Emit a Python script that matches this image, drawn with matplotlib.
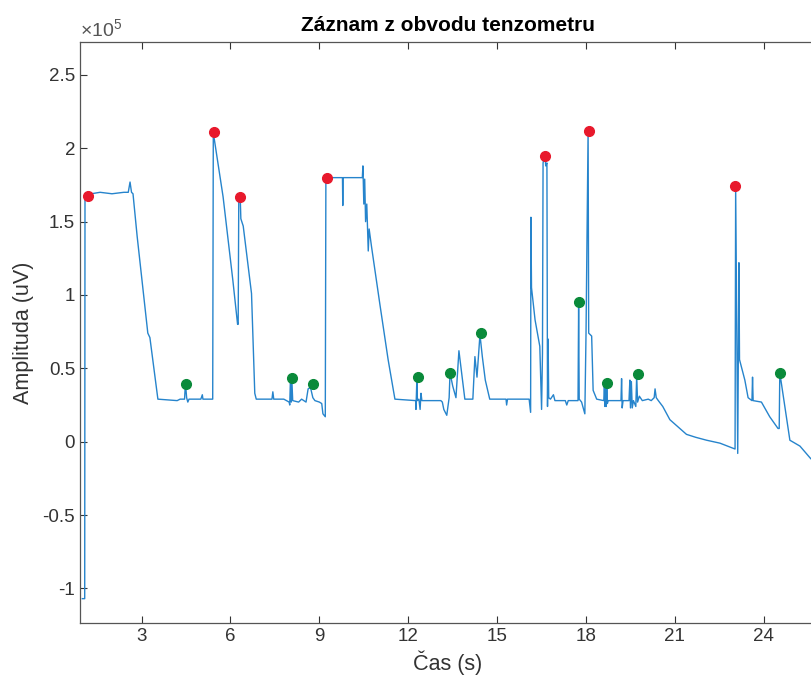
"""Záznam z obvodu tenzometru"""

import numpy as np
import matplotlib
matplotlib.use("Agg")
import matplotlib.pyplot as plt
from matplotlib.ticker import FuncFormatter

plt.rcParams['font.family'] = ['Liberation Sans', 'DejaVu Sans']
plt.rcParams['mathtext.fontset'] = 'custom'
plt.rcParams['mathtext.rm'] = 'Liberation Sans'

# signál (čas v s, amplituda v jednotkách 1e5 uV)
cas = [
    1.00, 1.08, 1.09, 1.30, 1.60, 2.00, 2.40, 2.55, 2.61, 2.66, 2.71,
    2.85, 3.21, 3.28, 3.55, 4.20, 4.30, 4.45, 4.48, 4.52, 4.56, 4.60,
    5.00, 5.05, 5.07, 5.40, 5.42, 5.44, 5.75, 6.08, 6.24, 6.26, 6.28,
    6.33, 6.35, 6.43, 6.71, 6.82, 6.87, 7.40, 7.43, 7.46, 7.80, 7.98,
    8.00, 8.02, 8.05, 8.07, 8.10, 8.30, 8.40, 8.55, 8.62, 8.70, 8.78,
    8.85, 9.00, 9.08, 9.12, 9.20, 9.22, 9.25, 9.75, 9.78, 9.79, 9.80,
    10.45, 10.47, 10.50, 10.53, 10.56, 10.60, 10.65, 10.68, 10.76, 11.04,
    11.32, 11.55, 12.25, 12.26, 12.29, 12.31, 12.36, 12.40, 12.43, 12.46,
    13.10, 13.15, 13.20, 13.30, 13.38, 13.41, 13.50, 13.61, 13.71, 13.91,
    14.18, 14.25, 14.32, 14.42, 14.50, 14.60, 14.75, 15.30, 15.32, 15.35,
    16.08, 16.13, 16.14, 16.16, 16.28, 16.44, 16.50, 16.53, 16.55, 16.58,
    16.61, 16.64, 16.68, 16.70, 16.72, 16.74, 16.80, 16.90, 16.95, 17.30,
    17.35, 17.40, 17.73, 17.75, 17.77, 17.85, 17.96, 18.00, 18.07, 18.09,
    18.19, 18.24, 18.36, 18.60, 18.62, 18.64, 18.66, 18.68, 18.70, 18.72,
    18.75, 19.18, 19.20, 19.22, 19.25, 19.45, 19.48, 19.50, 19.53, 19.56,
    19.60, 19.68, 19.71, 19.74, 19.80, 19.90, 20.10, 20.20, 20.30, 20.33,
    20.37, 20.44, 20.59, 20.83, 21.39, 21.70, 22.07, 22.52, 23.03, 23.05,
    23.12, 23.16, 23.18, 23.36, 23.47, 23.60, 23.62, 23.64, 23.92, 24.20,
    24.48, 24.52, 24.54, 24.88, 25.22, 25.56, 25.80,
]
amplituda = [
    -1.07, -1.07, 1.69, 1.69, 1.70, 1.69, 1.70, 1.70, 1.77, 1.70, 1.69,
    1.40, 0.74, 0.71, 0.29, 0.28, 0.29, 0.29, 0.40, 0.30, 0.27, 0.29,
    0.29, 0.32, 0.29, 0.29, 2.10, 2.08, 1.67, 1.10, 0.80, 0.80, 1.66,
    1.66, 1.52, 1.47, 1.01, 0.33, 0.29, 0.29, 0.34, 0.29, 0.29, 0.27,
    0.25, 0.40, 0.27, 0.43, 0.28, 0.27, 0.29, 0.27, 0.36, 0.37, 0.30,
    0.28, 0.27, 0.26, 0.19, 0.17, 1.80, 1.80, 1.80, 1.80, 1.61, 1.80,
    1.80, 1.88, 1.62, 1.79, 1.50, 1.62, 1.30, 1.45, 1.33, 0.94,
    0.56, 0.29, 0.28, 0.22, 0.42, 0.28, 0.29, 0.22, 0.33, 0.28,
    0.28, 0.27, 0.22, 0.18, 0.30, 0.47, 0.38, 0.30, 0.62, 0.29,
    0.29, 0.58, 0.44, 0.73, 0.58, 0.42, 0.29, 0.29, 0.25, 0.29,
    0.29, 0.20, 1.53, 1.05, 0.83, 0.65, 0.22, 0.60, 1.90, 1.93,
    1.96, 1.88, 1.90, 0.24, 0.70, 0.30, 0.29, 0.32, 0.28, 0.28,
    0.25, 0.28, 0.28, 0.92, 0.29, 0.27, 0.19, 0.74, 2.12, 0.74,
    0.72, 0.35, 0.29, 0.28, 0.40, 0.24, 0.39, 0.24, 0.39, 0.26,
    0.28, 0.28, 0.43, 0.23, 0.28, 0.28, 0.42, 0.23, 0.41, 0.23,
    0.28, 0.24, 0.45, 0.27, 0.31, 0.28, 0.29, 0.28, 0.30, 0.36,
    0.30, 0.28, 0.24, 0.15, 0.05, 0.03, 0.01, -0.01, -0.05, 1.74,
    -0.08, 1.22, 0.56, 0.42, 0.30, 0.28, 0.44, 0.28, 0.27, 0.17,
    0.09, 0.09, 0.47, 0.01, -0.03, -0.11, -0.16,
]

# detekované vrcholy
cas_max = [1.19, 5.44, 6.32, 9.25, 16.61, 18.10, 23.03]
amp_max = [1.675, 2.11, 1.668, 1.798, 1.95, 2.12, 1.743]
cas_min = [4.50, 8.07, 8.78, 12.33, 13.41, 14.45, 17.77, 18.72, 19.75, 24.54]
amp_min = [0.393, 0.434, 0.393, 0.441, 0.468, 0.741, 0.952, 0.40, 0.461, 0.468]

mer = 1e5
t = np.array(cas)
y = np.array(amplituda) * mer

fig = plt.figure(figsize=(8.11, 6.82), dpi=100)
ax = fig.add_axes([0.0986, 0.0865, 0.9075, 0.852])

ax.plot(t, y, color='#2684cc', linewidth=1.0)
ax.plot(cas_max, np.array(amp_max) * mer, 'o', color='#e8192c', markersize=7)
ax.plot(cas_min, np.array(amp_min) * mer, 'o', color='#0a8a3a', markersize=7)

ax.set_xlim(0.92, 25.76)
ax.set_ylim(-1.236 * mer, 2.725 * mer)
ax.set_xticks(np.arange(3, 25, 3))
ax.set_yticks(np.arange(-1, 2.6, 0.5) * mer)
ax.yaxis.set_major_formatter(FuncFormatter(lambda v, p: f"{v / mer:g}"))

ax.tick_params(direction='in', length=5, width=0.8, colors='#333333',
               labelsize=13.5, top=True, right=False)
for s in ax.spines.values():
    s.set_color('#555555')
    s.set_linewidth(0.9)

ax.text(0.0, 1.008, r'×10$^{5}$', transform=ax.transAxes, fontsize=14,
        color='#555555', ha='left', va='baseline')

ax.set_title('Záznam z obvodu tenzometru', fontsize=15, fontweight='bold', pad=8)
ax.set_xlabel('Čas (s)', fontsize=15.5, color='#333333', labelpad=4)
ax.set_ylabel('Amplituda (uV)', fontsize=15.5, color='#333333', labelpad=6)

plt.savefig('out.png', dpi=100)
